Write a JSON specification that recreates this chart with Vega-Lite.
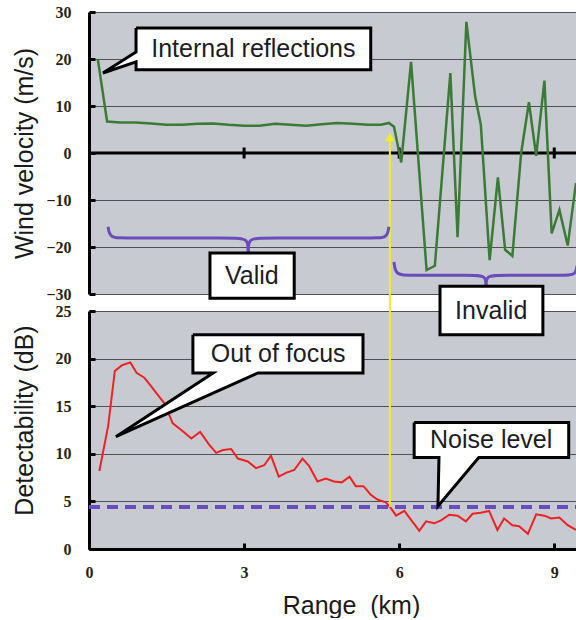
{
  "$schema": "https://vega.github.io/schema/vega-lite/v6.json",
  "background": "white",
  "padding": {"left": 11, "top": 4, "right": 0, "bottom": 0},
  "spacing": 17,
  "bounds": "flush",
  "config": {
    "view": {"stroke": null, "fill": "#c7cad1"},
    "axis": {
      "domainColor": "black", "domainWidth": 3, "tickColor": "black", "tickWidth": 3, "tickSize": -6,
      "labelFont": "Liberation Serif", "labelFontWeight": "bold", "labelFontSize": 16, "labelColor": "#2a1f14",
      "labelPadding": 24, "labelFlush": false, "labelOverlap": false,
      "titleFont": "Liberation Sans", "titleFontSize": 25, "titleFontWeight": "normal", "titleColor": "#1a1a1a",
      "gridColor": "#505050", "gridWidth": 1, "gridOpacity": 1
    },
    "text": {"font": "Liberation Sans", "fontSize": 25, "color": "#1c1c26"}
  },
  "datasets": {
    "wind": [
      {"x": 0.17, "y": 20}, {"x": 0.35, "y": 6.7}, {"x": 0.6, "y": 6.5}, {"x": 0.9, "y": 6.5}, {"x": 1.2, "y": 6.3},
      {"x": 1.5, "y": 6.0}, {"x": 1.8, "y": 6.0}, {"x": 2.1, "y": 6.2}, {"x": 2.4, "y": 6.3}, {"x": 2.7, "y": 6.0},
      {"x": 3.0, "y": 5.8}, {"x": 3.3, "y": 5.8}, {"x": 3.6, "y": 6.2}, {"x": 3.9, "y": 6.0}, {"x": 4.2, "y": 5.8},
      {"x": 4.5, "y": 6.1}, {"x": 4.8, "y": 6.4}, {"x": 5.1, "y": 6.2}, {"x": 5.4, "y": 6.0}, {"x": 5.65, "y": 6.0},
      {"x": 5.8, "y": 6.4}, {"x": 5.9, "y": 5.6}, {"x": 6.04, "y": -2.0}, {"x": 6.23, "y": 19.4}, {"x": 6.53, "y": -24.9},
      {"x": 6.69, "y": -24.0}, {"x": 6.99, "y": 17.0}, {"x": 7.13, "y": -17.9}, {"x": 7.30, "y": 27.9}, {"x": 7.47, "y": 12.0},
      {"x": 7.58, "y": 6.0}, {"x": 7.75, "y": -22.8}, {"x": 7.91, "y": -5.2}, {"x": 8.05, "y": -20.6}, {"x": 8.19, "y": -21.9},
      {"x": 8.36, "y": 0.0}, {"x": 8.51, "y": 10.8}, {"x": 8.65, "y": -0.6}, {"x": 8.81, "y": 15.4}, {"x": 8.95, "y": -17.1},
      {"x": 9.10, "y": -12.1}, {"x": 9.26, "y": -19.7}, {"x": 9.42, "y": -6.4}
    ],
    "det": [
      {"x": 0.2, "y": 8.2}, {"x": 0.37, "y": 12.9}, {"x": 0.5, "y": 18.7}, {"x": 0.64, "y": 19.3}, {"x": 0.8, "y": 19.6},
      {"x": 0.92, "y": 18.5}, {"x": 1.07, "y": 18.0}, {"x": 1.2, "y": 17.1}, {"x": 1.33, "y": 16.2}, {"x": 1.46, "y": 15.3},
      {"x": 1.62, "y": 13.2}, {"x": 1.81, "y": 12.4}, {"x": 1.98, "y": 11.6}, {"x": 2.15, "y": 12.3}, {"x": 2.32, "y": 11.0},
      {"x": 2.46, "y": 10.1}, {"x": 2.59, "y": 10.4}, {"x": 2.75, "y": 10.5}, {"x": 2.88, "y": 9.5}, {"x": 3.07, "y": 9.2},
      {"x": 3.23, "y": 8.5}, {"x": 3.39, "y": 8.8}, {"x": 3.52, "y": 9.8}, {"x": 3.67, "y": 7.6}, {"x": 3.81, "y": 8.0},
      {"x": 3.97, "y": 8.3}, {"x": 4.13, "y": 9.5}, {"x": 4.26, "y": 8.7}, {"x": 4.42, "y": 7.1}, {"x": 4.58, "y": 7.4},
      {"x": 4.74, "y": 7.1}, {"x": 4.89, "y": 7.0}, {"x": 5.04, "y": 7.6}, {"x": 5.16, "y": 6.6}, {"x": 5.31, "y": 6.6},
      {"x": 5.45, "y": 5.7}, {"x": 5.58, "y": 5.2}, {"x": 5.74, "y": 4.9}, {"x": 5.84, "y": 4.3}, {"x": 5.94, "y": 3.5},
      {"x": 6.1, "y": 4.0}, {"x": 6.23, "y": 3.05}, {"x": 6.39, "y": 1.9}, {"x": 6.52, "y": 2.9}, {"x": 6.68, "y": 2.7},
      {"x": 6.81, "y": 3.0}, {"x": 6.97, "y": 3.6}, {"x": 7.13, "y": 3.5}, {"x": 7.29, "y": 2.9}, {"x": 7.42, "y": 3.7},
      {"x": 7.58, "y": 3.8}, {"x": 7.74, "y": 4.0}, {"x": 7.9, "y": 2.0}, {"x": 8.03, "y": 3.2}, {"x": 8.19, "y": 2.5},
      {"x": 8.32, "y": 2.4}, {"x": 8.49, "y": 1.6}, {"x": 8.65, "y": 3.65}, {"x": 8.81, "y": 3.5}, {"x": 8.94, "y": 3.2},
      {"x": 9.1, "y": 3.3}, {"x": 9.26, "y": 2.5}, {"x": 9.42, "y": 2.0}
    ],
    "braces": [
      {"g": "vl", "i": 0, "x": 0.37, "y": -15.7}, {"g": "vl", "i": 1, "x": 0.40, "y": -18.1}, {"g": "vl", "i": 2, "x": 0.7, "y": -18.1},
      {"g": "vl", "i": 3, "x": 2.8, "y": -18.1}, {"g": "vl", "i": 4, "x": 3.08, "y": -18.1}, {"g": "vl", "i": 5, "x": 3.08, "y": -21.3},
      {"g": "vr", "i": 0, "x": 3.08, "y": -21.3}, {"g": "vr", "i": 1, "x": 3.08, "y": -18.1}, {"g": "vr", "i": 2, "x": 3.36, "y": -18.1},
      {"g": "vr", "i": 3, "x": 5.5, "y": -18.1}, {"g": "vr", "i": 4, "x": 5.77, "y": -18.1}, {"g": "vr", "i": 5, "x": 5.80, "y": -15.7},
      {"g": "il", "i": 0, "x": 5.90, "y": -23.2}, {"g": "il", "i": 1, "x": 5.93, "y": -26.0}, {"g": "il", "i": 2, "x": 6.2, "y": -26.0},
      {"g": "il", "i": 3, "x": 7.4, "y": -26.0}, {"g": "il", "i": 4, "x": 7.68, "y": -26.0}, {"g": "il", "i": 5, "x": 7.68, "y": -28.5},
      {"g": "ir", "i": 0, "x": 7.68, "y": -28.5}, {"g": "ir", "i": 1, "x": 7.68, "y": -26.0}, {"g": "ir", "i": 2, "x": 7.96, "y": -26.0},
      {"g": "ir", "i": 3, "x": 9.2, "y": -26.0}, {"g": "ir", "i": 4, "x": 9.41, "y": -26.0}, {"g": "ir", "i": 5, "x": 9.44, "y": -24.0}
    ],
    "calloutTop": [
      {"g": "a", "i": 0, "x": 0.91, "y": 26.6}, {"g": "a", "i": 1, "x": 5.45, "y": 26.6}, {"g": "a", "i": 2, "x": 5.45, "y": 17.7},
      {"g": "a", "i": 3, "x": 0.91, "y": 17.7}, {"g": "a", "i": 4, "x": 0.91, "y": 19.4}, {"g": "a", "i": 5, "x": 0.27, "y": 17.0},
      {"g": "a", "i": 6, "x": 0.91, "y": 21.5}, {"g": "a", "i": 7, "x": 0.91, "y": 26.6}
    ],
    "calloutBot": [
      {"g": "f", "i": 0, "x": 2.01, "y": 22.5}, {"g": "f", "i": 1, "x": 5.30, "y": 22.5}, {"g": "f", "i": 2, "x": 5.30, "y": 18.5},
      {"g": "f", "i": 3, "x": 3.27, "y": 18.5}, {"g": "f", "i": 4, "x": 0.52, "y": 11.8}, {"g": "f", "i": 5, "x": 2.40, "y": 18.5},
      {"g": "f", "i": 6, "x": 2.01, "y": 18.5}, {"g": "f", "i": 7, "x": 2.01, "y": 22.5},
      {"g": "n", "i": 0, "x": 6.29, "y": 13.3}, {"g": "n", "i": 1, "x": 9.28, "y": 13.3}, {"g": "n", "i": 2, "x": 9.28, "y": 9.6},
      {"g": "n", "i": 3, "x": 7.54, "y": 9.6}, {"g": "n", "i": 4, "x": 6.75, "y": 4.5}, {"g": "n", "i": 5, "x": 6.77, "y": 9.6},
      {"g": "n", "i": 6, "x": 6.29, "y": 9.6}, {"g": "n", "i": 7, "x": 6.29, "y": 13.3}
    ],
    "boxTop": [{"x": 2.34, "x2": 3.97, "y": -21.3, "y2": -30.9}],
    "boxBot": [{"x": 6.79, "x2": 8.78, "y": 22.5, "y2": 27.6}],
    "textTop": [{"x": 3.18, "y": 22.1, "label": "Internal reflections"}, {"x": 3.15, "y": -26.1, "label": "Valid"}],
    "textBot": [{"x": 3.66, "y": 20.5, "label": "Out of focus"}, {"x": 7.78, "y": 11.45, "label": "Noise level"}, {"x": 7.78, "y": 25.05, "label": "Invalid"}],
    "zeroLine": [{"x": 0, "x2": 9.44, "y": 0}],
    "zeroTicks": [{"x": 3, "y": 0}, {"x": 6, "y": 0}, {"x": 9, "y": 0}],
    "noise": [{"x": 0, "x2": 9.44, "y": 4.4}],
    "yellowTop": [{"x": 5.82, "y": 3.0, "y2": -33.6}],
    "arrowHead": [{"x": 5.82, "y": 3.4}],
    "yellowBot": [{"x": 5.82, "y": 4.4, "y2": 25}]
  },
  "vconcat": [
    {
      "width": 488,
      "height": 282,
      "encoding": {
        "x": {"field": "x", "type": "quantitative", "scale": {"domain": [0, 9.44], "nice": false, "zero": false}, "axis": null},
        "y": {"field": "y", "type": "quantitative", "scale": {"domain": [-30, 30], "nice": false},
          "axis": {"values": [-30, -20, -10, 0, 10, 20, 30], "title": "Wind velocity (m/s)", "grid": true, "titleX": -52, "titleY": 141}}
      },
      "layer": [
        {"data": {"name": "zeroLine"}, "mark": {"type": "rule", "color": "black", "strokeWidth": 3}, "encoding": {"x2": {"field": "x2"}}},
        {"data": {"name": "zeroTicks"}, "mark": {"type": "tick", "orient": "vertical", "color": "black", "size": 11, "thickness": 3, "opacity": 1}, "encoding": {}},
        {"data": {"name": "wind"}, "mark": {"type": "line", "color": "#3b7b35", "strokeWidth": 2.5}, "encoding": {}},
        {"data": {"name": "yellowTop"}, "mark": {"type": "rule", "color": "#f2ee22", "strokeWidth": 2}, "encoding": {"y2": {"field": "y2"}}},
        {"data": {"name": "arrowHead"}, "mark": {"type": "point", "shape": "triangle-up", "filled": true, "color": "#f2ee22", "size": 90, "opacity": 1}, "encoding": {}},
        {"data": {"name": "braces"}, "mark": {"type": "line", "color": "#6a4cbc", "strokeWidth": 3, "interpolate": "basis"},
          "encoding": {"detail": {"field": "g"}, "order": {"field": "i", "type": "quantitative"}}},
        {"data": {"name": "calloutTop"}, "mark": {"type": "line", "fill": "white", "stroke": "black", "strokeWidth": 3, "strokeJoin": "miter"},
          "encoding": {"detail": {"field": "g"}, "order": {"field": "i", "type": "quantitative"}}},
        {"data": {"name": "boxTop"}, "mark": {"type": "rect", "fill": "white", "stroke": "black", "strokeWidth": 3}, "encoding": {"x2": {"field": "x2"}, "y2": {"field": "y2"}}},
        {"data": {"name": "textTop"}, "mark": {"type": "text", "align": "center", "baseline": "middle"}, "encoding": {"text": {"field": "label"}}}
      ]
    },
    {
      "width": 488,
      "height": 238,
      "encoding": {
        "x": {"field": "x", "type": "quantitative", "scale": {"domain": [0, 9.44], "nice": false, "zero": false},
          "axis": {"values": [0, 3, 6, 9], "title": "Range \u00a0(km)", "grid": false, "labelPadding": 21, "titlePadding": 13, "titleX": 262}},
        "y": {"field": "y", "type": "quantitative", "scale": {"domain": [0, 25], "nice": false},
          "axis": {"values": [0, 5, 10, 15, 20, 25], "title": "Detectability (dB)", "grid": true, "titleX": -52, "titleY": 109}}
      },
      "layer": [
        {"data": {"name": "det"}, "mark": {"type": "line", "color": "#ee2222", "strokeWidth": 2}, "encoding": {}},
        {"data": {"name": "noise"}, "mark": {"type": "rule", "color": "#6a4cbc", "strokeWidth": 4, "strokeDash": [11, 7]}, "encoding": {"x2": {"field": "x2"}}},
        {"data": {"name": "yellowBot"}, "mark": {"type": "rule", "color": "#f2ee22", "strokeWidth": 2}, "encoding": {"y2": {"field": "y2"}}},
        {"data": {"name": "calloutBot"}, "mark": {"type": "line", "fill": "white", "stroke": "black", "strokeWidth": 3, "strokeJoin": "miter"},
          "encoding": {"detail": {"field": "g"}, "order": {"field": "i", "type": "quantitative"}}},
        {"data": {"name": "boxBot"}, "mark": {"type": "rect", "fill": "white", "stroke": "black", "strokeWidth": 3}, "encoding": {"x2": {"field": "x2"}, "y2": {"field": "y2"}}},
        {"data": {"name": "textBot"}, "mark": {"type": "text", "align": "center", "baseline": "middle"}, "encoding": {"text": {"field": "label"}}}
      ]
    }
  ]
}
